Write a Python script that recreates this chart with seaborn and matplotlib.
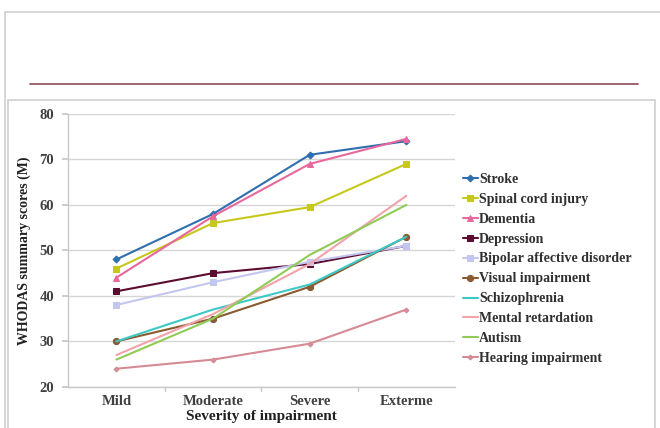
import numpy as np
import pandas as pd
import matplotlib.pyplot as plt
from matplotlib.lines import Line2D
from matplotlib.patches import Rectangle
import seaborn as sns

# data
severity = ["Mild", "Moderate", "Severe", "Exterme"]
stroke = [48, 58, 71, 74]
spinal = [46, 56, 59.5, 69]
dementia = [44, 57.5, 69, 74.5]
depression = [41, 45, 47, 51]
bipolar = [38, 43, 47.5, 51]
visual = [30, 35, 42, 53]
schizo = [30, 37, 42.5, 53]
mental = [27, 36, 47, 62]
autism = [26, 35, 49, 60]
hearing = [24, 26, 29.5, 37]

series = [
    ("Stroke", stroke, "#2f6fb0", "D", 3.5),
    ("Spinal cord injury", spinal, "#c6c81a", "s", 4.5),
    ("Dementia", dementia, "#e8679c", "^", 4.5),
    ("Depression", depression, "#5c0c30", "s", 4.5),
    ("Bipolar affective disorder", bipolar, "#c3c6ee", "s", 4.5),
    ("Visual impairment", visual, "#8a5a30", "o", 4.5),
    ("Schizophrenia", schizo, "#3cc9c6", None, 0),
    ("Mental retardation", mental, "#f2a3aa", None, 0),
    ("Autism", autism, "#8fcb55", None, 0),
    ("Hearing impairment", hearing, "#d58a94", "D", 2.5),
]

sns.set_theme(style="whitegrid")
plt.rcParams["font.family"] = ["Liberation Serif", "DejaVu Serif"]

fig = plt.figure(figsize=(6.6, 4.28), dpi=100)
ax = fig.add_axes([0.103, 0.096, 0.586, 0.638])

for name, vals, col, mk, ms in series:
    sns.lineplot(x=severity, y=vals, sort=False, color=col, marker=mk,
                 markersize=ms, markeredgecolor=col, linewidth=1.5,
                 label=name, ax=ax)

ax.set_xlim(-0.5, 3.5)
ax.set_ylim(20, 80)
ax.set_yticks([20, 30, 40, 50, 60, 70, 80])
ax.set_xticks(range(len(severity)))
ax.set_xticklabels(severity)
ax.set_facecolor("white")
ax.grid(axis="y", color="#d6d6d6", linewidth=1.0)
ax.grid(axis="x", visible=False)
for s in ["top", "right"]:
    ax.spines[s].set_visible(False)
for s in ["left", "bottom"]:
    ax.spines[s].set_color("#c8c8c8")
    ax.spines[s].set_linewidth(1.0)
ax.tick_params(axis="x", length=0, pad=6, labelsize=10.5, labelcolor="#404040")
ax.tick_params(axis="y", left=True, length=4, color="#c8c8c8", pad=6,
               labelsize=10.5, labelcolor="#404040")
for xm in [0.5, 1.5, 2.5]:
    ax.plot([xm, xm], [20, 19.2], color="#c8c8c8", lw=1, clip_on=False)
for lab in ax.get_xticklabels() + ax.get_yticklabels():
    lab.set_fontweight("bold")

ax.set_xlabel("Severity of impairment", fontsize=11, fontweight="bold",
              color="#202020", labelpad=1)
ax.set_ylabel("WHODAS summary scores (M)", fontsize=10, fontweight="bold",
              color="#202020", labelpad=6)

leg = ax.legend(loc="center left", bbox_to_anchor=(0.995, 0.432), frameon=False,
                fontsize=10, handlelength=1.1, handletextpad=0.1,
                labelspacing=0.5, borderaxespad=0.3)
for t in leg.get_texts():
    t.set_fontweight("bold")
    t.set_color("#303030")

# page frames around the chart
fig.patches.append(Rectangle((5 / 660, -0.1), 660 / 660, 1 - 12 / 428 + 0.1,
                             transform=fig.transFigure, fill=False,
                             edgecolor="#cfcfcf", lw=1.2))
fig.patches.append(Rectangle((8 / 660, -0.1), 647 / 660, 1 - 100 / 428 + 0.1,
                             transform=fig.transFigure, fill=False,
                             edgecolor="#cfcfcf", lw=1.2))
fig.lines.append(Line2D([30 / 660, 638 / 660], [1 - 84 / 428, 1 - 84 / 428],
                        transform=fig.transFigure, color="#8a4a55", lw=1.2))

fig.savefig("out.png", dpi=100)
